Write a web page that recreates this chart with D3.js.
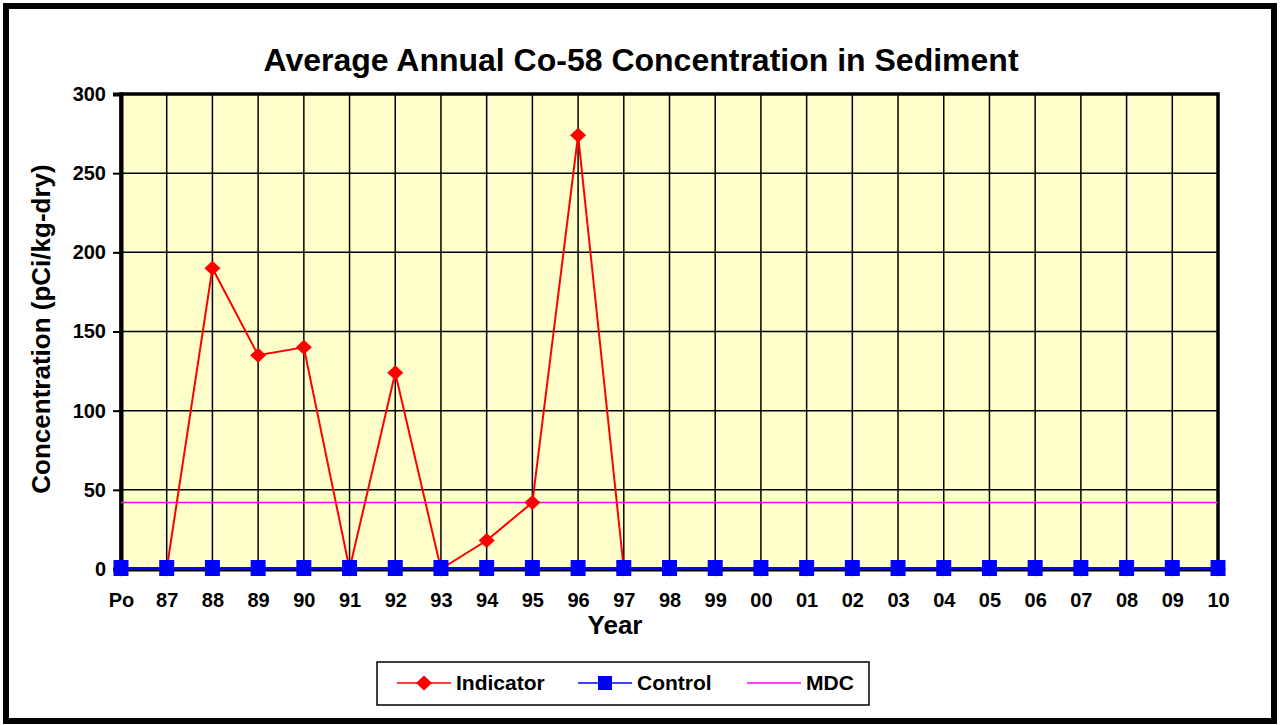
<!DOCTYPE html>
<html>
<head>
<meta charset="utf-8">
<script src="https://cdn.jsdelivr.net/npm/d3@7"></script>
<style>
  body { margin: 0; background: #fff; }
  svg text { font-family: "Liberation Sans", Arial, sans-serif; font-weight: bold; fill: #000; }
</style>
</head>
<body>
<svg id="chart" width="1280" height="725"></svg>
<script>
// categories and series
var years = ["Po", "87", "88", "89", "90", "91", "92", "93", "94", "95", "96", "97", "98", "99",
             "00", "01", "02", "03", "04", "05", "06", "07", "08", "09", "10"];
var indicator = [0, 0, 190, 135, 140, 0, 124, 0, 18, 42, 274, 0, 0, 0,
                 0, 0, 0, 0, 0, 0, 0, 0, 0, 0, 0];
var control = [0, 0, 0, 0, 0, 0, 0, 0, 0, 0, 0, 0, 0, 0,
               0, 0, 0, 0, 0, 0, 0, 0, 0, 0, 0];
var mdc = 42;
var yTicks = [0, 50, 100, 150, 200, 250, 300];

var svg = d3.select("#chart");

// outer frame
svg.append("rect")
  .attr("x", 6).attr("y", 6)
  .attr("width", 1268).attr("height", 715)
  .attr("fill", "#fff")
  .attr("stroke", "#000")
  .attr("stroke-width", 6);

var plotLeft = 121, plotRight = 1218, plotTop = 94, plotBottom = 569;

var x = d3.scalePoint().domain(years).range([plotLeft, plotRight]).padding(0);
var y = d3.scaleLinear().domain([0, 300]).range([plotBottom, plotTop]);

// plot background
svg.append("rect")
  .attr("x", plotLeft).attr("y", plotTop)
  .attr("width", plotRight - plotLeft).attr("height", plotBottom - plotTop)
  .attr("fill", "#FFFFCC");

// grid
var grid = svg.append("g");
grid.selectAll("line.v")
  .data(years)
  .enter().append("line")
  .attr("x1", d => x(d)).attr("x2", d => x(d))
  .attr("y1", plotTop).attr("y2", plotBottom)
  .attr("stroke", "#000").attr("stroke-width", 1.5);
grid.selectAll("line.h")
  .data(yTicks)
  .enter().append("line")
  .attr("x1", plotLeft).attr("x2", plotRight)
  .attr("y1", d => y(d)).attr("y2", d => y(d))
  .attr("stroke", "#000").attr("stroke-width", 1.5);

// plot border
svg.append("rect")
  .attr("x", plotLeft).attr("y", plotTop)
  .attr("width", plotRight - plotLeft).attr("height", plotBottom - plotTop)
  .attr("fill", "none")
  .attr("stroke", "#000").attr("stroke-width", 3.5);

// y axis
var yAxis = svg.append("g")
  .attr("transform", "translate(" + plotLeft + ",0)")
  .call(d3.axisLeft(y).tickValues(yTicks).tickSize(8).tickPadding(7));
yAxis.select(".domain").attr("stroke-width", 4);
yAxis.selectAll(".tick line").attr("stroke-width", 2);
yAxis.selectAll("text").style("font-size", "20px");

// x axis
var xAxis = svg.append("g")
  .attr("transform", "translate(0," + plotBottom + ")")
  .call(d3.axisBottom(x).tickSize(0).tickPadding(24));
xAxis.select(".domain").attr("stroke-width", 4);
xAxis.selectAll("text").style("font-size", "20px");

// MDC line
svg.append("line")
  .attr("x1", plotLeft).attr("x2", plotRight)
  .attr("y1", y(mdc)).attr("y2", y(mdc))
  .attr("stroke", "#FF00FF").attr("stroke-width", 1.5);

var line = d3.line()
  .x((d, i) => x(years[i]))
  .y(d => y(d));

// indicator
svg.append("path")
  .datum(indicator)
  .attr("d", line)
  .attr("fill", "none")
  .attr("stroke", "#FF0000").attr("stroke-width", 2);
svg.selectAll("path.diamond")
  .data(indicator)
  .enter().append("path")
  .attr("class", "diamond")
  .attr("d", "M0,-7.5L8,0L0,7.5L-8,0Z")
  .attr("transform", (d, i) => "translate(" + x(years[i]) + "," + y(d) + ")")
  .attr("fill", "#FF0000");

// control
svg.append("path")
  .datum(control)
  .attr("d", line)
  .attr("fill", "none")
  .attr("stroke", "#0000FF").attr("stroke-width", 2);
svg.selectAll("rect.sq")
  .data(control)
  .enter().append("rect")
  .attr("class", "sq")
  .attr("x", (d, i) => x(years[i]) - 7.5)
  .attr("y", d => y(d) - 9)
  .attr("width", 15).attr("height", 16)
  .attr("fill", "#0000FF");

// title and axis labels
svg.append("text")
  .attr("x", 641).attr("y", 71)
  .attr("text-anchor", "middle")
  .style("font-size", "32px")
  .text("Average Annual Co-58 Concentration in Sediment");

svg.append("text")
  .attr("transform", "translate(50,329) rotate(-90)")
  .attr("text-anchor", "middle")
  .style("font-size", "26px")
  .text("Concentration (pCi/kg-dry)");

svg.append("text")
  .attr("x", 615).attr("y", 634)
  .attr("text-anchor", "middle")
  .style("font-size", "26px")
  .text("Year");

// legend
var legend = svg.append("g");
legend.append("rect")
  .attr("x", 377).attr("y", 662)
  .attr("width", 492).attr("height", 43)
  .attr("fill", "#fff")
  .attr("stroke", "#000").attr("stroke-width", 1.5);

var legendItems = [
  { name: "Indicator", color: "#FF0000", marker: "diamond", x0: 397 },
  { name: "Control", color: "#0000FF", marker: "square", x0: 578 },
  { name: "MDC", color: "#FF00FF", marker: null, x0: 747 }
];
var ly = 683;
legendItems.forEach(function(it) {
  legend.append("line")
    .attr("x1", it.x0).attr("x2", it.x0 + 54)
    .attr("y1", ly).attr("y2", ly)
    .attr("stroke", it.color).attr("stroke-width", 1.5);
  if (it.marker == "diamond") {
    legend.append("path")
      .attr("d", "M0,-7.5L8,0L0,7.5L-8,0Z")
      .attr("transform", "translate(" + (it.x0 + 27) + "," + ly + ")")
      .attr("fill", it.color);
  } else if (it.marker == "square") {
    legend.append("rect")
      .attr("x", it.x0 + 20).attr("y", ly - 7)
      .attr("width", 14).attr("height", 14)
      .attr("fill", it.color);
  }
  legend.append("text")
    .attr("x", it.x0 + 59).attr("y", ly + 7)
    .style("font-size", "21px")
    .text(it.name);
});
</script>
</body>
</html>
